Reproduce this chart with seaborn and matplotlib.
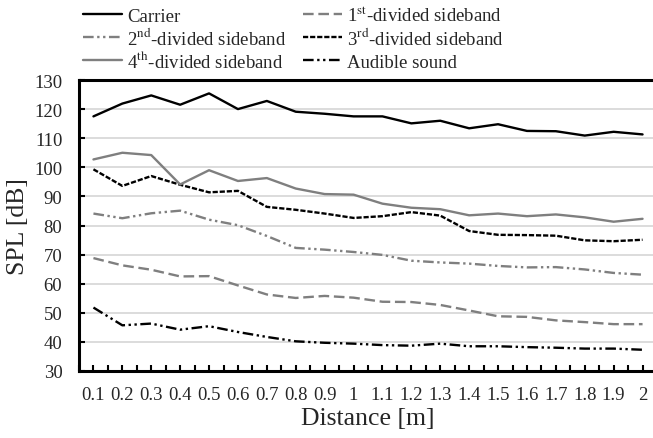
import numpy as np
import pandas as pd
import matplotlib
matplotlib.use("Agg")
import matplotlib.pyplot as plt
from matplotlib.ticker import FixedLocator
import seaborn as sns

# Measurement positions (m)
distance = ["0.1", "0.2", "0.3", "0.4", "0.5", "0.6", "0.7", "0.8", "0.9", "1",
            "1.1", "1.2", "1.3", "1.4", "1.5", "1.6", "1.7", "1.8", "1.9", "2"]

# Sound pressure levels (dB)
carrier = [117.5, 121.9, 124.7, 121.5, 125.4, 120.0, 122.8, 119.1, 118.4, 117.5,
           117.5, 115.1, 116.0, 113.4, 114.8, 112.5, 112.4, 110.9, 112.2, 111.3]
side_1st = [68.8, 66.3, 64.8, 62.5, 62.6, 59.4, 56.3, 55.1, 55.8, 55.2,
            53.8, 53.7, 52.7, 50.8, 48.8, 48.6, 47.4, 46.8, 46.1, 46.1]
side_2nd = [84.1, 82.5, 84.2, 85.1, 82.0, 80.1, 76.4, 72.3, 71.7, 70.9,
            69.9, 67.9, 67.3, 66.9, 66.1, 65.6, 65.7, 64.9, 63.7, 63.1]
side_3rd = [99.3, 93.6, 97.0, 94.0, 91.4, 91.9, 86.4, 85.4, 84.1, 82.6,
            83.2, 84.6, 83.4, 78.1, 76.8, 76.7, 76.5, 74.9, 74.6, 75.1]
side_4th = [102.7, 105.0, 104.2, 94.1, 99.0, 95.3, 96.3, 92.7, 90.8, 90.6,
            87.5, 86.1, 85.6, 83.5, 84.1, 83.2, 83.8, 82.8, 81.3, 82.3]
audible = [51.8, 45.7, 46.3, 44.2, 45.4, 43.4, 41.7, 40.2, 39.7, 39.4,
           38.9, 38.7, 39.4, 38.5, 38.5, 38.2, 38.0, 37.7, 37.7, 37.3]

labels = ["Carrier",
          "1$^{\\mathrm{st}}$-divided sideband",
          "2$^{\\mathrm{nd}}$-divided sideband",
          "3$^{\\mathrm{rd}}$-divided sideband",
          "4$^{\\mathrm{th}}$-divided sideband",
          "Audible sound"]
series = [carrier, side_1st, side_2nd, side_3rd, side_4th, audible]

df = pd.concat(
    [pd.DataFrame({"Distance": distance, "SPL": vals, "Series": name})
     for name, vals in zip(labels, series)],
    ignore_index=True)

gray = "#7f7f7f"
colors = dict(zip(labels, ["black", gray, gray, "black", gray, "black"]))
dashes = dict(zip(labels, [
    "",
    (4.5, 2.0),
    (4.5, 1.5, 1.0, 1.5, 1.0, 1.5),
    (2.2, 0.8),
    "",
    (4.5, 1.5, 1.0, 1.5, 1.0, 1.5),
]))

sns.set_style("white")
plt.rcParams["font.family"] = ["Liberation Serif", "DejaVu Serif"]
plt.rcParams["mathtext.fontset"] = "stix"

W, H = 653, 439
fig = plt.figure(figsize=(W / 100, H / 100), dpi=100)
ax = fig.add_axes([79 / W, (H - 372) / H, 578 / W, 291 / H])

sns.lineplot(data=df, x="Distance", y="SPL", hue="Series", style="Series",
             hue_order=labels, style_order=labels, palette=colors,
             dashes=dashes, linewidth=1.7, sort=False, ax=ax)

ax.set_xlim(-0.5, len(distance) - 0.5)
ax.set_ylim(30, 130)
ax.set_yticks(np.arange(30, 131, 10))
ax.xaxis.set_minor_locator(FixedLocator(np.arange(-0.5, len(distance), 0.5)))

ax.yaxis.grid(True, color="#d9d9d9", linewidth=1.3)
ax.xaxis.grid(False)
ax.set_axisbelow(True)

for side in ["left", "bottom", "top"]:
    ax.spines[side].set_visible(True)
    ax.spines[side].set_color("black")
    ax.spines[side].set_linewidth(2.2)
ax.spines["right"].set_visible(False)

ax.tick_params(axis="x", which="both", direction="in", length=4, width=1.5,
               color="black", bottom=True, labelsize=13.5, pad=11)
ax.tick_params(axis="y", which="major", direction="in", length=4, width=1.5,
               color="black", left=True, labelsize=13.5, pad=12)

ax.set_xlabel("Distance [m]", fontsize=18.5, labelpad=3)
ax.set_ylabel("SPL [dB]", fontsize=18.5, labelpad=4)

# Legend: two columns, three rows; one entry per box so rows line up exactly
handles, lbls = ax.get_legend_handles_labels()
ax.get_legend().remove()
lookup = dict(zip(lbls, handles))
slots = [
    (labels[0], 83, 26), (labels[1], 303, 26),
    (labels[2], 83, 49), (labels[3], 303, 49),
    (labels[4], 83, 72), (labels[5], 303, 72),
]
for name, px, py in slots:
    fig.legend([lookup[name]], [name], loc="lower left",
               bbox_to_anchor=(px / W, 1 - py / H), frameon=False,
               fontsize=13.5, handlelength=2.1, handleheight=0.7,
               handletextpad=0.25, borderpad=0, borderaxespad=0)

fig.savefig("out.png", dpi=100)
